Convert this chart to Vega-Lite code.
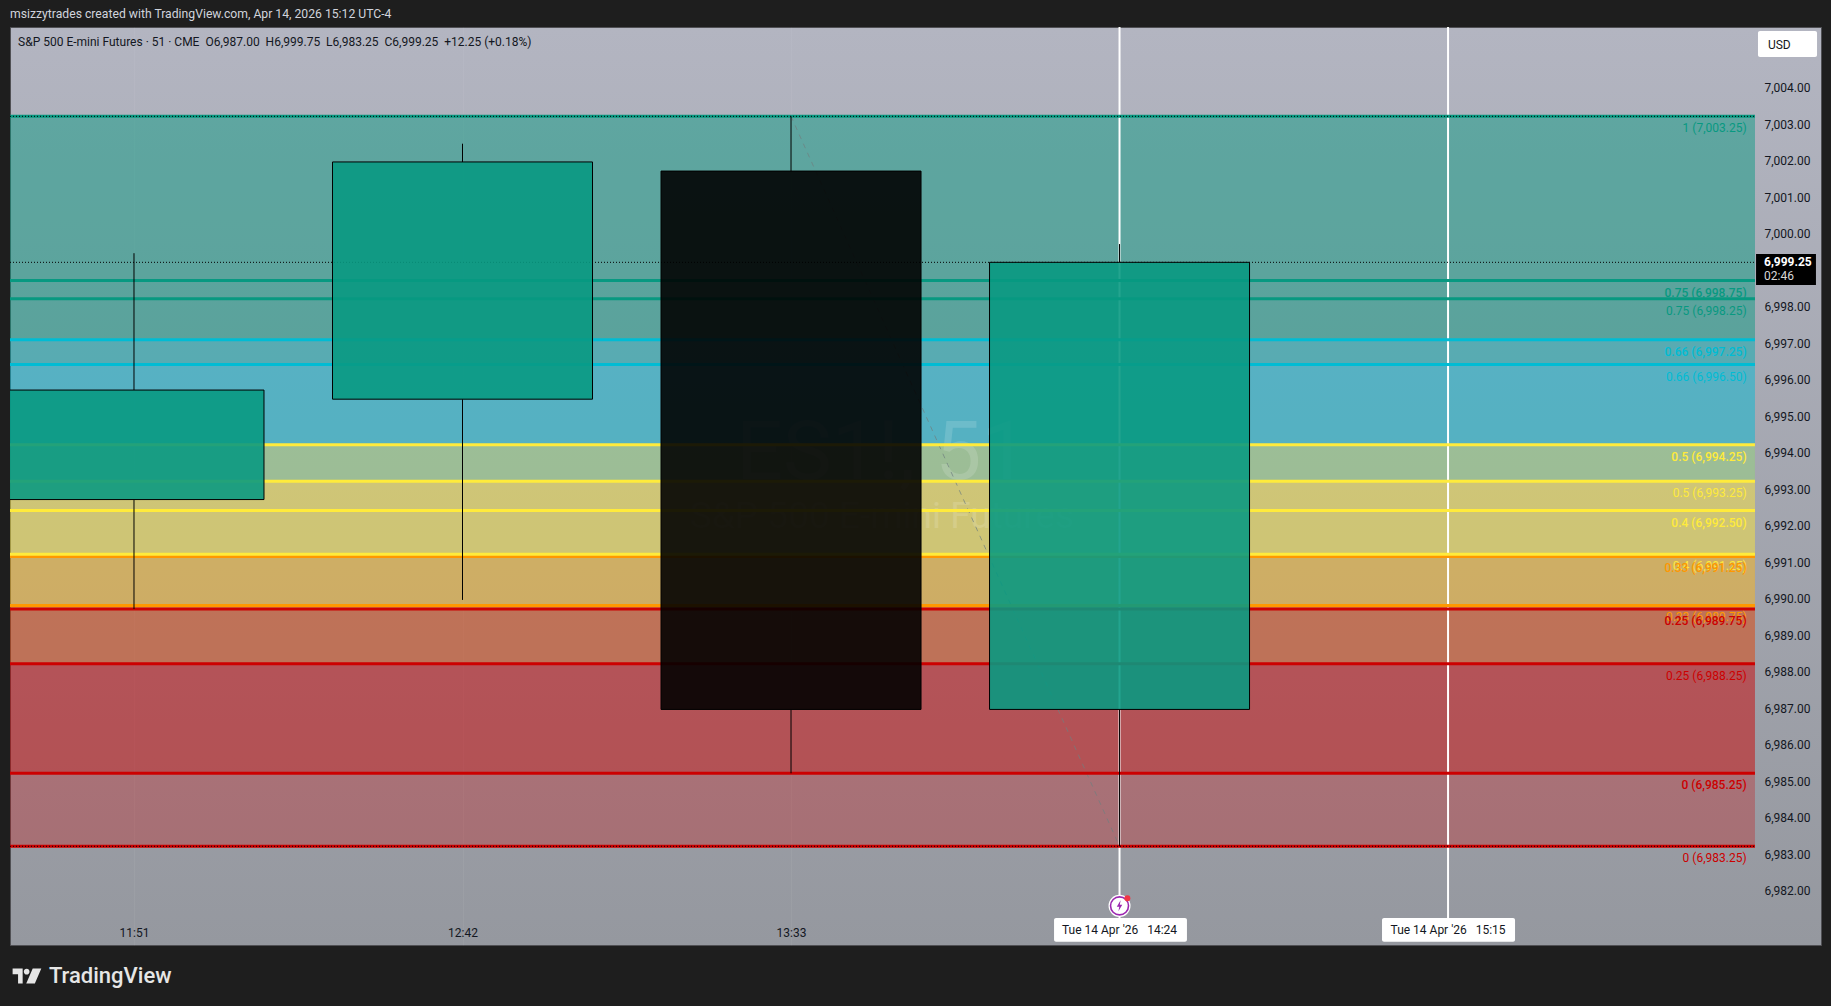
{
"$schema":"https://vega.github.io/schema/vega-lite/v6.json",
"autosize":"none",
"width":1811,"height":918,
"padding":{"left":10,"top":27,"right":10,"bottom":61},
"background":"#1e1e1e",
"title":{"text":"msizzytrades created with TradingView.com, Apr 14, 2026 15:12 UTC-4","anchor":"start","frame":"group","offset":6,"font":"Roboto","fontSize":12.2,"fontWeight":"normal","color":"#d1d4dc"},
"view":{"stroke":"#505054","strokeWidth":1,"fill":{"gradient":"linear","x1":0,"y1":0,"x2":0,"y2":1,"stops":[{"offset":0,"color":"#b3b5c1"},{"offset":1,"color":"#95989f"}]}},
"config":{"legend":{"disable":true},"font":"Roboto"},
"datasets":{
"zones":[
{"fib":"A","top":7003.25,"bottom":6998.25,"band":"teal","start":"2026-04-14T11:31:45Z","end":"2026-04-14T16:02:39Z"},
{"fib":"A","top":6998.25,"bottom":6996.45,"band":"teal","start":"2026-04-14T11:31:45Z","end":"2026-04-14T16:02:39Z"},
{"fib":"A","top":6996.45,"bottom":6993.25,"band":"cyan","start":"2026-04-14T11:31:45Z","end":"2026-04-14T16:02:39Z"},
{"fib":"A","top":6993.25,"bottom":6991.25,"band":"yellow","start":"2026-04-14T11:31:45Z","end":"2026-04-14T16:02:39Z"},
{"fib":"A","top":6991.25,"bottom":6989.85,"band":"yellow","start":"2026-04-14T11:31:45Z","end":"2026-04-14T16:02:39Z"},
{"fib":"A","top":6989.85,"bottom":6988.25,"band":"orange","start":"2026-04-14T11:31:45Z","end":"2026-04-14T16:02:39Z"},
{"fib":"A","top":6988.25,"bottom":6983.25,"band":"red","start":"2026-04-14T11:31:45Z","end":"2026-04-14T16:02:39Z"},
{"fib":"B","top":7003.25,"bottom":6998.75,"band":"teal","start":"2026-04-14T11:31:45Z","end":"2026-04-14T16:02:39Z"},
{"fib":"B","top":6998.75,"bottom":6997.13,"band":"teal","start":"2026-04-14T11:31:45Z","end":"2026-04-14T16:02:39Z"},
{"fib":"B","top":6997.13,"bottom":6994.25,"band":"cyan","start":"2026-04-14T11:31:45Z","end":"2026-04-14T16:02:39Z"},
{"fib":"B","top":6994.25,"bottom":6992.45,"band":"yellow","start":"2026-04-14T11:31:45Z","end":"2026-04-14T16:02:39Z"},
{"fib":"B","top":6992.45,"bottom":6991.19,"band":"yellow","start":"2026-04-14T11:31:45Z","end":"2026-04-14T16:02:39Z"},
{"fib":"B","top":6991.19,"bottom":6989.75,"band":"orange","start":"2026-04-14T11:31:45Z","end":"2026-04-14T16:02:39Z"},
{"fib":"B","top":6989.75,"bottom":6985.25,"band":"red","start":"2026-04-14T11:31:45Z","end":"2026-04-14T16:02:39Z"}
],
"levels":[
{"fib":"A","price":7003.25,"label":"1 (7,003.25)","band":"teal","start":"2026-04-14T11:31:45Z","end":"2026-04-14T16:02:39Z","at":"2026-04-14T16:01:21Z"},
{"fib":"A","price":6998.25,"label":"0.75 (6,998.25)","band":"teal","start":"2026-04-14T11:31:45Z","end":"2026-04-14T16:02:39Z","at":"2026-04-14T16:01:21Z"},
{"fib":"A","price":6996.45,"label":"0.66 (6,996.50)","band":"cyan","start":"2026-04-14T11:31:45Z","end":"2026-04-14T16:02:39Z","at":"2026-04-14T16:01:21Z"},
{"fib":"A","price":6993.25,"label":"0.5 (6,993.25)","band":"yellow","start":"2026-04-14T11:31:45Z","end":"2026-04-14T16:02:39Z","at":"2026-04-14T16:01:21Z"},
{"fib":"B","price":6991.19,"label":"0.33 (6,991.25)","band":"orange","start":"2026-04-14T11:31:45Z","end":"2026-04-14T16:02:39Z","at":"2026-04-14T16:01:21Z"},
{"fib":"A","price":6991.25,"label":"0.4 (6,991.25)","band":"yellow","start":"2026-04-14T11:31:45Z","end":"2026-04-14T16:02:39Z","at":"2026-04-14T16:01:21Z"},
{"fib":"A","price":6989.85,"label":"0.33 (6,989.75)","band":"orange","start":"2026-04-14T11:31:45Z","end":"2026-04-14T16:02:39Z","at":"2026-04-14T16:01:21Z"},
{"fib":"A","price":6988.25,"label":"0.25 (6,988.25)","band":"red","start":"2026-04-14T11:31:45Z","end":"2026-04-14T16:02:39Z","at":"2026-04-14T16:01:21Z"},
{"fib":"A","price":6983.25,"label":"0 (6,983.25)","band":"red","start":"2026-04-14T11:31:45Z","end":"2026-04-14T16:02:39Z","at":"2026-04-14T16:01:21Z"},
{"fib":"B","price":6998.75,"label":"0.75 (6,998.75)","band":"teal","start":"2026-04-14T11:31:45Z","end":"2026-04-14T16:02:39Z","at":"2026-04-14T16:01:21Z"},
{"fib":"B","price":6997.13,"label":"0.66 (6,997.25)","band":"cyan","start":"2026-04-14T11:31:45Z","end":"2026-04-14T16:02:39Z","at":"2026-04-14T16:01:21Z"},
{"fib":"B","price":6994.25,"label":"0.5 (6,994.25)","band":"yellow","start":"2026-04-14T11:31:45Z","end":"2026-04-14T16:02:39Z","at":"2026-04-14T16:01:21Z"},
{"fib":"B","price":6992.45,"label":"0.4 (6,992.50)","band":"yellow","start":"2026-04-14T11:31:45Z","end":"2026-04-14T16:02:39Z","at":"2026-04-14T16:01:21Z"},
{"fib":"B","price":6989.75,"label":"0.25 (6,989.75)","band":"red","start":"2026-04-14T11:31:45Z","end":"2026-04-14T16:02:39Z","at":"2026-04-14T16:01:21Z"},
{"fib":"B","price":6985.25,"label":"0 (6,985.25)","band":"red","start":"2026-04-14T11:31:45Z","end":"2026-04-14T16:02:39Z","at":"2026-04-14T16:01:21Z"}
],
"candles":[
{"time":"2026-04-14T11:51:00Z","open":6992.75,"high":6999.5,"low":6989.75,"close":6995.75,"bodyTop":6995.75,"bodyBottom":6992.75,"dir":"up"},
{"time":"2026-04-14T12:42:00Z","open":6995.5,"high":7002.5,"low":6990.0,"close":7002.0,"bodyTop":7002.0,"bodyBottom":6995.5,"dir":"up"},
{"time":"2026-04-14T13:33:00Z","open":7001.75,"high":7003.25,"low":6985.25,"close":6987.0,"bodyTop":7001.75,"bodyBottom":6987.0,"dir":"down"},
{"time":"2026-04-14T14:24:00Z","open":6987.0,"high":6999.75,"low":6983.25,"close":6999.25,"bodyTop":6999.25,"bodyBottom":6987.0,"dir":"up"}
],
"dotted":[
{"price":7003.25,"start":"2026-04-14T11:31:45Z","end":"2026-04-14T16:02:39Z"},
{"price":6999.25,"start":"2026-04-14T11:31:45Z","end":"2026-04-14T16:02:39Z"},
{"price":6983.25,"start":"2026-04-14T11:31:45Z","end":"2026-04-14T16:02:39Z"}
],
"cursorLines":[
{"time":"2026-04-14T14:24:00Z","top":7005.697,"bottom":6981.286},
{"time":"2026-04-14T15:15:00Z","top":7005.697,"bottom":6981.286}
],
"boxes":[
{"start":"2026-04-14T14:13:50Z","end":"2026-04-14T14:34:28Z","top":6981.286,"bottom":6980.636},
{"start":"2026-04-14T15:04:45Z","end":"2026-04-14T15:25:24Z","top":6981.286,"bottom":6980.636},
{"start":"2026-04-14T16:03:07Z","end":"2026-04-14T16:12:17Z","top":7005.587,"bottom":7004.875}
]
},
"layer":[
{"data":{"name":"zones"},"mark":{"type":"rect","opacity":0.28},
 "encoding":{
  "x":{"field":"start","type":"temporal","title":null,
   "scale":{"type":"utc","padding":0,"domain":[{"year":2026,"month":4,"date":14,"hours":11,"minutes":31,"seconds":45,"utc":true},{"year":2026,"month":4,"date":14,"hours":16,"minutes":12,"seconds":54,"utc":true}]},
   "axis":{"zindex":0,"values":[{"year":2026,"month":4,"date":14,"hours":11,"minutes":51,"utc":true},{"year":2026,"month":4,"date":14,"hours":12,"minutes":42,"utc":true},{"year":2026,"month":4,"date":14,"hours":13,"minutes":33,"utc":true}],"labelExpr":"utcFormat(datum.value,'%H:%M')","domain":false,"ticks":false,"tickSize":0,"offset":-13,"labelPadding":0,"labelBaseline":"middle","labelFont":"Roboto","labelFontSize":12,"labelColor":"#131722","grid":true,"gridColor":"#ffffff","gridOpacity":0.05,"labelFlush":false,"labelOverlap":false}},
  "x2":{"field":"end"},
  "y":{"field":"top","type":"quantitative","title":null,
   "scale":{"domain":[6980.546,7005.697],"nice":false,"zero":false},
   "axis":{"zindex":0,"orient":"right","offset":-66,"values":[6982,6983,6984,6985,6986,6987,6988,6989,6990,6991,6992,6993,6994,6995,6996,6997,6998,7000,7001,7002,7003,7004],"format":",.2f","domain":false,"ticks":false,"tickSize":0,"labelPadding":9,"labelOffset":-1,"labelFont":"Roboto","labelFontSize":12,"labelColor":"#131722","grid":false,"labelFlush":false,"labelOverlap":false}},
  "y2":{"field":"bottom"},
  "color":{"field":"band","type":"nominal","scale":{"domain":["teal","cyan","yellow","orange","red","up","down"],"range":["#089981","#00bcd4","#ffeb3b","#ff9800","#cc0000","#089981","#000000"]}}
 }},
{"data":{"values":[{"time":"2026-04-14T13:47:07Z","price":6994.0,"text":"ES1!, 51"}]},
 "mark":{"type":"text","font":"Roboto","fontSize":82,"baseline":"middle","align":"center","color":"#ffffff","opacity":0.14},
 "encoding":{"x":{"field":"time","type":"temporal"},"y":{"field":"price","type":"quantitative"},"text":{"field":"text"}}},
{"data":{"values":[{"time":"2026-04-14T13:47:07Z","price":6992.28,"text":"S&P 500 E-mini Futures"}]},
 "mark":{"type":"text","font":"Roboto","fontSize":37,"baseline":"middle","align":"center","color":"#ffffff","opacity":0.14},
 "encoding":{"x":{"field":"time","type":"temporal"},"y":{"field":"price","type":"quantitative"},"text":{"field":"text"}}},
{"data":{"name":"cursorLines"},"mark":{"type":"rule","color":"#ffffff","strokeWidth":2},
 "encoding":{"x":{"field":"time","type":"temporal"},"y":{"field":"top","type":"quantitative"},"y2":{"field":"bottom"}}},
{"data":{"values":[{"time":"2026-04-14T13:33:00Z","price":7003.25},{"time":"2026-04-14T14:24:00Z","price":6983.25}]},
 "mark":{"type":"line","color":"#6f7f7f","strokeWidth":1,"strokeDash":[5,5],"opacity":0.7},
 "encoding":{"x":{"field":"time","type":"temporal"},"y":{"field":"price","type":"quantitative"}}},
{"data":{"name":"levels"},"mark":{"type":"rule","strokeWidth":3},
 "encoding":{"x":{"field":"start","type":"temporal"},"x2":{"field":"end"},"y":{"field":"price","type":"quantitative"},"color":{"field":"band","type":"nominal"}}},
{"data":{"name":"dotted"},"mark":{"type":"rule","color":"#000000","strokeWidth":1,"strokeDash":[1,2]},
 "encoding":{"x":{"field":"start","type":"temporal"},"x2":{"field":"end"},"y":{"field":"price","type":"quantitative"}}},
{"data":{"name":"candles"},"mark":{"type":"rule","color":"#000000","strokeWidth":1},
 "encoding":{"x":{"field":"time","type":"temporal"},"y":{"field":"high","type":"quantitative"},"y2":{"field":"bodyTop"}}},
{"data":{"name":"candles"},"mark":{"type":"rule","color":"#000000","strokeWidth":1},
 "encoding":{"x":{"field":"time","type":"temporal"},"y":{"field":"bodyBottom","type":"quantitative"},"y2":{"field":"low"}}},
{"data":{"name":"candles"},"mark":{"type":"bar","size":260,"clip":true,"stroke":"#000000","strokeWidth":1,"fillOpacity":0.89},
 "encoding":{"x":{"field":"time","type":"temporal"},"y":{"field":"open","type":"quantitative"},"y2":{"field":"close"},"color":{"field":"dir","type":"nominal"}}},
{"data":{"name":"levels"},"transform":[{"filter":"datum.fib === 'A'"}],
 "mark":{"type":"text","align":"right","baseline":"middle","dy":12,"font":"Roboto","fontSize":12,"fontWeight":"normal"},
 "encoding":{"x":{"field":"at","type":"temporal"},"y":{"field":"price","type":"quantitative"},"text":{"field":"label"},"color":{"field":"band","type":"nominal"}}},
{"data":{"name":"levels"},"transform":[{"filter":"datum.fib === 'B'"}],
 "mark":{"type":"text","align":"right","baseline":"middle","dy":12,"font":"Roboto","fontSize":12,"fontWeight":500},
 "encoding":{"x":{"field":"at","type":"temporal"},"y":{"field":"price","type":"quantitative"},"text":{"field":"label"},"color":{"field":"band","type":"nominal"}}},
{"data":{"name":"boxes"},"mark":{"type":"rect","color":"#ffffff","cornerRadius":2},
 "encoding":{"x":{"field":"start","type":"temporal"},"x2":{"field":"end"},"y":{"field":"top","type":"quantitative"},"y2":{"field":"bottom"}}},
{"data":{"values":[{"start":"2026-04-14T16:02:49Z","end":"2026-04-14T16:12:07Z","top":6999.477,"bottom":6998.628}]},"mark":{"type":"rect","color":"#000000"},
 "encoding":{"x":{"field":"start","type":"temporal"},"x2":{"field":"end"},"y":{"field":"top","type":"quantitative"},"y2":{"field":"bottom"}}},
{"data":{"values":[{"time":"2026-04-14T14:24:00Z","price":6980.95,"text":"Tue 14 Apr '26\u00a0\u00a0\u00a014:24"},{"time":"2026-04-14T15:15:00Z","price":6980.95,"text":"Tue 14 Apr '26\u00a0\u00a0\u00a015:15"}]},
 "mark":{"type":"text","font":"Roboto","fontSize":12,"align":"center","baseline":"middle","color":"#131722"},
 "encoding":{"x":{"field":"time","type":"temporal"},"y":{"field":"price","type":"quantitative"},"text":{"field":"text"}}},
{"data":{"values":[{"time":"2026-04-14T16:04:40Z","price":7005.217,"text":"USD"},{"time":"2026-04-14T11:33:00Z","price":7005.286,"text":"S&P 500 E-mini Futures · 51 · CME\u00a0\u00a0O6,987.00\u00a0\u00a0H6,999.75\u00a0\u00a0L6,983.25\u00a0\u00a0C6,999.25\u00a0\u00a0+12.25 (+0.18%)"}]},
 "mark":{"type":"text","font":"Roboto","fontSize":12,"align":"left","baseline":"middle","color":"#131722"},
 "encoding":{"x":{"field":"time","type":"temporal"},"y":{"field":"price","type":"quantitative"},"text":{"field":"text"}}},
{"data":{"values":[{"time":"2026-04-14T16:04:03Z","price":6999.26,"text":"6,999.25"}]},
 "mark":{"type":"text","font":"Roboto","fontSize":12,"fontWeight":"bold","align":"left","baseline":"middle","color":"#ffffff"},
 "encoding":{"x":{"field":"time","type":"temporal"},"y":{"field":"price","type":"quantitative"},"text":{"field":"text"}}},
{"data":{"values":[{"time":"2026-04-14T16:04:03Z","price":6998.875,"text":"02:46"}]},
 "mark":{"type":"text","font":"Roboto","fontSize":12,"align":"left","baseline":"middle","color":"#d8d8d8"},
 "encoding":{"x":{"field":"time","type":"temporal"},"y":{"field":"price","type":"quantitative"},"text":{"field":"text"}}},
{"data":{"values":[{"time":"2026-04-14T14:24:00Z","price":6981.618}]},
 "mark":{"type":"point","shape":"circle","filled":true,"color":"#ffffff","opacity":1,"size":484},
 "encoding":{"x":{"field":"time","type":"temporal"},"y":{"field":"price","type":"quantitative"}}},
{"data":{"values":[{"time":"2026-04-14T14:24:00Z","price":6981.618}]},
 "mark":{"type":"point","shape":"circle","filled":false,"color":"#9c27b0","strokeWidth":1.6,"opacity":1,"size":324},
 "encoding":{"x":{"field":"time","type":"temporal"},"y":{"field":"price","type":"quantitative"}}},
{"data":{"values":[{"time":"2026-04-14T14:24:00Z","price":6981.618}]},
 "mark":{"type":"point","shape":"M0.2,-1 L-0.5,0.15 H-0.05 L-0.2,1 L0.5,-0.2 H0.05 Z","filled":true,"color":"#9c27b0","opacity":1,"size":121},
 "encoding":{"x":{"field":"time","type":"temporal"},"y":{"field":"price","type":"quantitative"}}},
{"data":{"values":[{"time":"2026-04-14T14:25:13Z","price":6981.829}]},
 "mark":{"type":"point","shape":"circle","filled":true,"color":"#f23645","opacity":1,"size":36},
 "encoding":{"x":{"field":"time","type":"temporal"},"y":{"field":"price","type":"quantitative"}}},
{"data":{"values":[{"time":"2026-04-14T11:37:48Z","price":6979.697,"text":"TradingView"}]},
 "mark":{"type":"text","font":"Roboto","fontSize":22,"fontWeight":500,"align":"left","baseline":"middle","color":"#e6e6e6"},
 "encoding":{"x":{"field":"time","type":"temporal"},"y":{"field":"price","type":"quantitative"},"text":{"field":"text"}}},
{"data":{"values":[{"time":"2026-04-14T11:34:23Z","price":6979.697}]},
 "mark":{"type":"point","shape":"M-1,-0.52 H-0.3 V0.52 H-0.62 V-0.12 H-1 Z M-0.22,-0.3 A0.2,0.2 0 1,1 0.18,-0.3 A0.2,0.2 0 1,1 -0.22,-0.3 Z M0.4,-0.52 H1 L0.55,0.52 H-0.05 Z","filled":true,"color":"#e6e6e6","opacity":1,"size":824},
 "encoding":{"x":{"field":"time","type":"temporal"},"y":{"field":"price","type":"quantitative"}}}
]
}
